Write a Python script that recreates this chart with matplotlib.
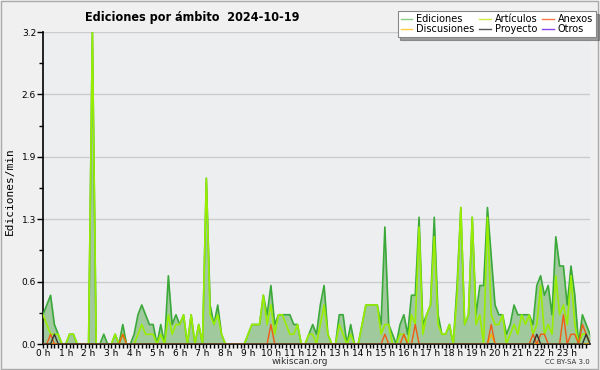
"""Ediciones por ámbito (wikiscan) - 2024-10-19, 10-minute bins."""

import matplotlib
matplotlib.use("Agg")
import matplotlib.pyplot as plt
import matplotlib.transforms as mtransforms
import numpy as np

# edits per minute, one value per 10-minute bin (145 points: 0h .. 24h)
ediciones = [
    0.3, 0.4, 0.5, 0.2, 0.1, 0, 0, 0.1, 0.1, 0, 0, 0,
    0, 3.2, 0, 0, 0.1, 0, 0, 0.1, 0, 0.2, 0, 0,
    0.1, 0.3, 0.4, 0.3, 0.2, 0.2, 0, 0.2, 0, 0.7, 0.2, 0.3,
    0.2, 0.3, 0, 0.3, 0, 0.2, 0, 1.7, 0.4, 0.2, 0.4, 0.1,
    0, 0, 0, 0, 0, 0, 0.1, 0.2, 0.2, 0.2, 0.5, 0.3,
    0.6, 0.2, 0.3, 0.3, 0.3, 0.3, 0.2, 0.2, 0, 0, 0.1, 0.2,
    0.1, 0.4, 0.6, 0.1, 0, 0, 0.3, 0.3, 0, 0.2, 0, 0,
    0.2, 0.4, 0.4, 0.4, 0.4, 0.2, 1.2, 0.2, 0.1, 0, 0.2, 0.3,
    0.1, 0.5, 0.5, 1.3, 0.2, 0.3, 0.4, 1.3, 0.3, 0.1, 0.1, 0.2,
    0, 0.6, 1.4, 0.2, 0.3, 1.3, 0.3, 0.6, 0.6, 1.4, 0.9, 0.4,
    0.3, 0.3, 0.1, 0.2, 0.4, 0.3, 0.3, 0.3, 0.3, 0.2, 0.6, 0.7,
    0.5, 0.6, 0.3, 1.1, 0.8, 0.8, 0.4, 0.8, 0.5, 0, 0.3, 0.2,
    0.1,
]
articulos = [
    0.3, 0.2, 0.1, 0.1, 0.1, 0, 0, 0.1, 0.1, 0, 0, 0,
    0, 3.2, 0, 0, 0, 0, 0, 0.1, 0, 0.1, 0, 0,
    0, 0.1, 0.2, 0.1, 0.1, 0.1, 0, 0.1, 0, 0.3, 0.1, 0.2,
    0.2, 0.3, 0, 0.3, 0, 0.2, 0, 1.7, 0.3, 0.2, 0.3, 0.1,
    0, 0, 0, 0, 0, 0, 0.1, 0.2, 0.2, 0.2, 0.5, 0.2,
    0.4, 0.1, 0.3, 0.3, 0.2, 0.1, 0.1, 0.2, 0, 0, 0.1, 0.1,
    0, 0.2, 0.4, 0.1, 0, 0, 0.2, 0.1, 0, 0.1, 0, 0,
    0.2, 0.4, 0.4, 0.4, 0.4, 0.1, 0.2, 0.2, 0, 0, 0.1, 0.1,
    0, 0.3, 0.2, 1.2, 0.1, 0.3, 0.4, 1.1, 0.2, 0.1, 0.1, 0.2,
    0, 0.5, 1.4, 0.2, 0.3, 1.3, 0.2, 0.3, 0, 1.3, 0.3, 0.2,
    0.2, 0.3, 0, 0.1, 0.2, 0.1, 0.3, 0.2, 0.3, 0.1, 0.2, 0.6,
    0.1, 0.2, 0.1, 0.7, 0.3, 0.4, 0.2, 0.7, 0.2, 0, 0.1, 0.1,
    0,
]
# sparse series: {bin index: value}
anexos = {2: 0.1, 21: 0.1, 60: 0.2, 90: 0.1, 95: 0.1, 98: 0.2, 118: 0.2,
          129: 0.1, 131: 0.1, 132: 0.1, 137: 0.3, 139: 0.1, 140: 0.1,
          142: 0.2, 143: 0.1}
discusiones = {118: 0.1}
proyecto = {3: 0.1, 130: 0.1, 143: 0.1}
otros = {}

hour_labels = [f"{h} h" for h in range(24)]
y_ticks = [0, 0.64, 1.28, 1.92, 2.56, 3.2]
y_labels = ["0.0", "0.6", "1.3", "1.9", "2.6", "3.2"]

n = len(ediciones)
t = np.arange(n) / 6.0


def dense(d):
    v = np.zeros(n)
    for k, val in d.items():
        v[k] = val
    return v


fig = plt.figure(figsize=(6, 3.7), dpi=100, facecolor="#f0f0f0")
# outer border
fig.patches.append(plt.Rectangle((0.002, 0.003), 0.995, 0.993, transform=fig.transFigure,
                                 fill=False, edgecolor="#aaaaaa", linewidth=1))
ax = fig.add_axes([43 / 600, 1 - 344 / 370, 547 / 600, 312 / 370])
ax.set_facecolor("#edeef0")

ax.fill_between(t, ediciones, color="#a0c99e", linewidth=0, zorder=2)
ax.plot(t, ediciones, color="#3aa93a", linewidth=1.2, zorder=3)
ax.plot(t, articulos, color="#99ee00", linewidth=1.2, zorder=4)
ax.plot(t, dense(discusiones), color="#f5b800", linewidth=1.0, zorder=5)
ax.plot(t, dense(anexos), color="#f05a14", linewidth=1.0, zorder=6)
ax.plot(t, dense(proyecto), color="#333333", linewidth=1.0, zorder=6)

ax.set_xlim(0, 24)
ax.set_ylim(0, 3.2)
ax.set_yticks(y_ticks)
ax.set_yticklabels(y_labels)
ax.set_yticks(np.arange(0.32, 3.2, 0.64), minor=True)
ax.set_xticks(np.arange(24))
ax.set_xticklabels(hour_labels)
ax.set_xticks(np.arange(0, 24, 1 / 6), minor=True)
shift = mtransforms.ScaledTranslation(3 / 100, 0, fig.dpi_scale_trans)
for lab in ax.get_xticklabels():
    lab.set_transform(lab.get_transform() + shift)
ax.grid(axis="y", color="#cccccc", linewidth=1, zorder=0)
ax.set_axisbelow(True)
for s in ("top", "right"):
    ax.spines[s].set_visible(False)
ax.spines["left"].set_linewidth(1.2)
ax.spines["bottom"].set_linewidth(1.2)
ax.tick_params(axis="y", which="major", labelsize=6.5, length=4, width=1, pad=1)
ax.tick_params(axis="y", which="minor", length=3, width=1)
ax.tick_params(axis="x", which="both", labelsize=6.5, length=3, width=1, pad=0.5)
ax.set_ylabel("Ediciones/min", fontsize=8, family="DejaVu Sans Mono")
ax.yaxis.set_label_coords(-28 / 547, 0.49)

fig.text(85 / 600, 1 - 17 / 370, "Ediciones por ámbito  2024-10-19", fontsize=9,
         fontweight="bold", fontstretch="condensed", va="center", ha="left")
fig.text(0.5, 1 - 362 / 370, "wikiscan.org", fontsize=6.5, ha="center", va="center", color="#333333")
fig.text(590 / 600, 1 - 362 / 370, "CC BY-SA 3.0", fontsize=5, ha="right", va="center", color="#333333")

handles = [
    plt.Line2D([], [], color="#88cc88", lw=1),
    plt.Line2D([], [], color="#ffcc44", lw=1),
    plt.Line2D([], [], color="#ccee44", lw=1),
    plt.Line2D([], [], color="#555555", lw=1),
    plt.Line2D([], [], color="#ff7744", lw=1),
    plt.Line2D([], [], color="#8844ee", lw=1),
]
labels = ["Ediciones", "Discusiones", "Artículos", "Proyecto", "Anexos", "Otros"]
leg = fig.legend(handles, labels, loc="upper right", bbox_to_anchor=(596 / 600, 1 - 11 / 370),
                 ncol=3, fontsize=7, frameon=True, fancybox=False, shadow=True,
                 handlelength=1.2, handletextpad=0.4, columnspacing=0.5,
                 labelspacing=0.05, borderpad=0.3, borderaxespad=0)
leg.get_frame().set_edgecolor("#888888")
leg.get_frame().set_linewidth(0.8)

fig.savefig("out.png", dpi=100, facecolor=fig.get_facecolor())
